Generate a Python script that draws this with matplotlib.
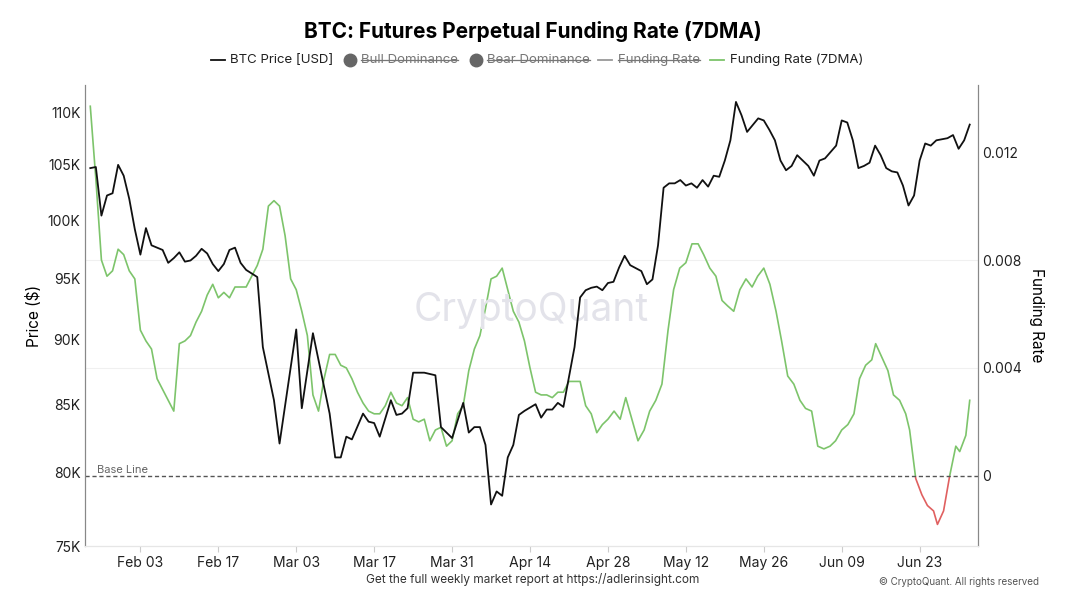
import matplotlib
matplotlib.use("Agg")
import matplotlib.pyplot as plt
import matplotlib.dates as mdates
from matplotlib.lines import Line2D
from matplotlib.patches import Rectangle
import numpy as np
import datetime as dt

plt.rcParams["font.family"] = "Inter"

base = dt.datetime(2025, 1, 25)

price_days = [0,1,2,3,4,5,6,7,8,9,10,11,12,13,14,15,16,17,18,19,20,21,22,23,24,25,26,27,28,30,31,33,34,37,38,40,43,44,45,46,47,49,50,51,52,54,55,56,57,58,59,60,61,62,63,65,67,68,69,70,71,72,73,74,75,76,77,78,80,81,82,83,84,85,87,88,89,90,91,92,93,94,95,96,97,99,100,101,102,103,104,105,106,107,108,109,110,111,112,113,114,115,116,117,118,120,121,122,123,124,125,126,127,128,129,130,131,132,134,135,136,137,138,139,140,141,142,143,144,145,146,147,148,149,150,151,152,154,155,156,157,158]
price = [104.7,104.8,100.4,102.2,102.4,105.0,104.0,101.9,99.2,97.0,99.3,97.8,97.6,97.4,96.3,96.7,97.2,96.4,96.5,96.9,97.5,97.1,96.2,95.6,96.2,97.4,97.6,96.3,95.7,95.1,89.4,85.3,82.1,90.8,84.7,90.5,84.3,81.1,81.1,82.6,82.4,84.3,83.7,83.6,82.6,85.3,84.2,84.3,84.7,87.4,87.4,87.4,87.3,87.2,83.3,82.5,85.1,82.9,83.3,83.3,82.0,77.8,78.7,78.4,81.1,82.0,84.2,84.5,85.0,84.0,84.6,84.6,85.1,84.8,89.4,93.4,94.0,94.2,94.3,94.0,94.6,94.7,95.9,96.9,96.1,95.6,94.5,94.9,97.8,102.9,103.3,103.3,103.6,103.1,103.3,102.9,103.6,103.0,104.0,103.9,105.4,107.3,111.0,109.7,108.1,109.4,109.2,108.3,107.3,105.4,104.5,104.9,105.9,105.4,104.9,104.0,105.4,105.6,106.8,109.2,109.0,107.3,104.7,104.9,105.2,106.8,105.9,104.7,104.4,104.3,103.1,101.3,102.2,105.4,107.0,106.8,107.3,107.5,107.8,106.5,107.3,108.8]

fr_days = list(range(0, 89)) + [89,90,91,92,93,94.1,95.2,96.2,97.3,98.4,99.5,100.5,101.6,102.7,103.8,104.8,105.9,107,108.1,109.2,110.2,111.3,112.4,113.5,114.5,115.6,116.7,117.8,118.9,119.9,121,122.1,123.2,124.2,125.3,126.4,127.5,128.5,129.6,130.7,131.8,132.9,133.9,135,136.1,137.2,138.2,139.3,140.4,141.1,142.2,143.3,144.3,145.4,146.5,147.2,148.3,149.4,150.4,151.5,152.2,153.3,154.4,155.5,156.2,157.3,158]
fr = [.0137,.0110,.0080,.0074,.0076,.0084,.0082,.0076,.0073,.0054,.0050,.0047,.0036,.0032,.0028,.0024,.0049,.0050,.0052,.0057,.0061,.0067,.0071,.0066,.0068,.0066,.0070,.0070,.0070,.0074,.0078,.0084,.0100,.0102,.0100,.0089,.0073,.0069,.0061,.0052,.0030,.0024,.0036,.0045,.0045,.0041,.0040,.0036,.0031,.0027,.0024,.0023,.0023,.0026,.0031,.0027,.0026,.0029,.0021,.0020,.0021,.0013,.0017,.0018,.0011,.0013,.0023,.0026,.0039,.0047,.0052,.0062,.0073,.0074,.0077,.0069,.0061,.0057,.0050,.0040,.0031,.0030,.0030,.0029,.0031,.0031,.0035,.0035,.0035,
      .0026,.0023,.0016,.0019,.0021,.0024,.0021,.0029,.0021,.0013,.0017,.0024,.0028,.0034,.0054,.0069,.0077,.0079,.0086,.0086,.0082,.0077,.0074,.0065,.0063,.0061,.0069,.0073,.0070,.0074,.0077,.0071,.0061,.0050,.0037,.0034,.0028,.0025,.0024,.0011,.0010,.0011,.0013,.0017,.0019,.0023,.0036,.0041,.0043,.0049,.0044,.0039,.0030,.0028,.0023,.0017,-.0001,-.0007,-.0011,-.0013,-.0018,-.0013,.0000,.0011,.0009,.0015,.0028]

price_ticks = [75, 80, 85, 90, 95, 100, 105, 110]
fr_ticks = [0, 0.004, 0.008, 0.012]
x_ticks = ["2025-02-03","2025-02-17","2025-03-03","2025-03-17","2025-03-31","2025-04-14","2025-04-28","2025-05-12","2025-05-26","2025-06-09","2025-06-23"]

def todates(days):
    return [mdates.date2num(base + dt.timedelta(days=d)) for d in days]

fig = plt.figure(figsize=(10.66, 6.0), dpi=100)
ax = fig.add_axes([0.080, 0.09, 0.837, 0.768])
ax2 = ax.twinx()
ax.set_zorder(ax2.get_zorder() + 1)
ax.patch.set_visible(False)

px = todates(price_days)
fx = todates(fr_days)
ax.plot(px, [p * 1000 for p in price], color="#111111", lw=1.3)
ax.set_yscale("log")
ax.set_ylim(75000, 112650)
ax.set_yticks([t * 1000 for t in price_ticks])
ax.set_yticklabels([f"{t}K" for t in price_ticks])
ax.yaxis.set_minor_locator(matplotlib.ticker.NullLocator())
ax.set_ylabel("Price ($)", fontsize=11)

lo, hi = -0.0026, 0.01448
ax2.set_ylim(lo, hi)
g, = ax2.plot(fx, fr, color="#7dc46b", lw=1.2)
r, = ax2.plot(fx, fr, color="#e06060", lw=1.2)
xmin = mdates.date2num(base - dt.timedelta(days=1))
xmax = mdates.date2num(base + dt.timedelta(days=160))
g.set_clip_path(Rectangle((xmin, 0), xmax - xmin, 1, transform=ax2.transData))
r.set_clip_path(Rectangle((xmin, -1), xmax - xmin, 1, transform=ax2.transData))
ax2.axhline(0, color="#555555", lw=1, ls=(0, (3, 2)))
ax2.text(mdates.date2num(base + dt.timedelta(days=1.2)), 0.00005, "Base Line", fontsize=8, color="#666666", va="bottom")
ax2.set_yticks(fr_ticks)
ax2.set_yticklabels(["0", "0.004", "0.008", "0.012"])
ax2.set_ylabel("Funding Rate", fontsize=11, rotation=270, labelpad=16)
for t in [0.004, 0.008]:
    ax2.axhline(t, color="#f0f0f0", lw=0.8, zorder=0)

ax.set_xlim(mdates.date2num(base - dt.timedelta(days=0.9)), mdates.date2num(base + dt.timedelta(days=159.4)))
ax.set_xticks([mdates.date2num(dt.datetime.strptime(s, "%Y-%m-%d")) for s in x_ticks])
ax.xaxis.set_major_formatter(mdates.DateFormatter("%b %d"))

for a in (ax, ax2):
    a.tick_params(labelsize=10, colors="#222222", length=4)
    a.spines["top"].set_visible(False)
    a.spines["left"].set_color("#888888")
    a.spines["right"].set_color("#888888")
    a.spines["bottom"].set_color("#e6e6e6")
ax.tick_params(axis="x", color="#cccccc")
ax.tick_params(axis="y", length=0)
ax2.tick_params(axis="y", length=0)

fig.text(0.498, 0.483, "CryptoQuant", fontsize=28, color="#e3e3ea", ha="center", va="center", zorder=0)
fig.text(0.5, 0.948, "BTC: Futures Perpetual Funding Rate (7DMA)", fontsize=15, fontweight="bold", ha="center", va="center")

# legend (x positions in pixels of a 1066-wide figure)
ly = 0.900
W = 1066.0
items = [(211, 230, "line", "#111111", "BTC Price [USD]", False),
         (343, 361, "dot", "#666666", "Bull Dominance", True),
         (469, 487, "dot", "#666666", "Bear Dominance", True),
         (598, 618, "line", "#999999", "Funding Rate", True),
         (710, 730, "line", "#7dc46b", "Funding Rate (7DMA)", False)]
fig.canvas.draw()
rend = fig.canvas.get_renderer()
for mx, tx, kind, col, label, struck in items:
    if kind == "line":
        fig.add_artist(Line2D([mx / W, (mx + 14) / W], [ly, ly], color=col, lw=1.3, transform=fig.transFigure))
    else:
        fig.add_artist(Line2D([(mx + 7) / W], [ly], marker="o", ms=9, color=col, transform=fig.transFigure))
    t = fig.text(tx / W, ly, label, fontsize=9.5, va="center", color="#777777" if struck else "#222222")
    if struck:
        bb = t.get_window_extent(rend).transformed(fig.transFigure.inverted())
        fig.add_artist(Line2D([bb.x0, bb.x1], [ly, ly], color="#777777", lw=0.9, transform=fig.transFigure))

fig.text(0.5, 0.035, "Get the full weekly market report at https://adlerinsight.com", fontsize=8.5, ha="center", va="center", color="#333333")
fig.text(0.975, 0.030, "© CryptoQuant. All rights reserved", fontsize=7, ha="right", va="center", color="#555555")

fig.savefig("out.png", dpi=100)
